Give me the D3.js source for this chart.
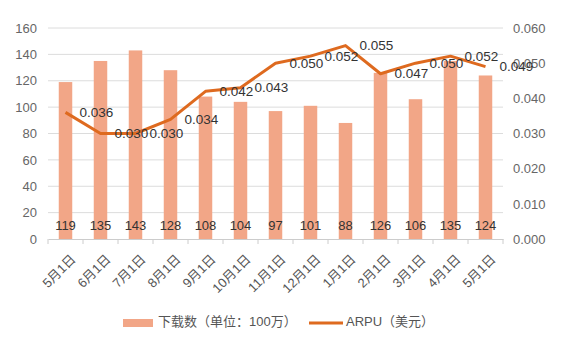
<!DOCTYPE html>
<html><head><meta charset="utf-8">
<script src="https://cdn.jsdelivr.net/npm/d3@7"></script>
<style>body{margin:0;background:#fff}svg{display:block}text{font-family:"Liberation Sans","Noto Sans CJK SC",Arial,sans-serif}</style>
</head><body><svg id="c" width="564" height="348"></svg>
<script>
const categories = ["5月1日","6月1日","7月1日","8月1日","9月1日","10月1日","11月1日","12月1日","1月1日","2月1日","3月1日","4月1日","5月1日"];
const downloads = [119,135,143,128,108,104,97,101,88,126,106,135,124];
const arpu = [0.036,0.030,0.030,0.034,0.042,0.043,0.050,0.052,0.055,0.047,0.050,0.052,0.049];
const leftTicks = [0,20,40,60,80,100,120,140,160];
const rightTicks = [0,0.01,0.02,0.03,0.04,0.05,0.06];
const legendLabels = ["下载数（单位：100万）","ARPU（美元）"];

const barColor = "#F2A687", lineColor = "#DE6A1F", gridColor = "#dcdcdc", axisText = "#666";
const svg = d3.select("#c");
const m = {l:48, r:61, t:28, b:109};
const W = 564, H = 348;
const x = d3.scaleBand().domain(d3.range(categories.length)).range([m.l, W-m.r]);
const yL = d3.scaleLinear().domain([0,160]).range([H-m.b, m.t]);
const yR = d3.scaleLinear().domain([0,0.06]).range([H-m.b, m.t]);

// grid
svg.append("g").selectAll("line").data(leftTicks.slice(1)).join("line")
  .attr("x1", m.l).attr("x2", W-m.r).attr("y1", d=>yL(d)).attr("y2", d=>yL(d))
  .attr("stroke", gridColor).attr("stroke-width", 1);

// left axis
const gl = svg.append("g").attr("transform", `translate(${m.l-11},0)`)
  .call(d3.axisLeft(yL).tickValues(leftTicks).tickSize(0).tickPadding(0));
gl.select(".domain").remove();
gl.selectAll("text").attr("fill", axisText).style("font-size","13px");

// right axis
const gr = svg.append("g").attr("transform", `translate(${W-m.r+10},0)`)
  .call(d3.axisRight(yR).tickValues(rightTicks).tickFormat(d3.format(".3f")).tickSize(0).tickPadding(0));
gr.select(".domain").remove();
gr.selectAll("text").attr("fill", axisText).style("font-size","13px");

// bars
const bw = 13.5;
svg.append("g").selectAll("rect").data(downloads).join("rect")
  .attr("x", (d,i)=>x(i)+x.bandwidth()/2-bw/2).attr("width", bw)
  .attr("y", d=>yL(d)).attr("height", d=>yL(0)-yL(d)).attr("fill", barColor);

// x axis
const gx = svg.append("g").attr("transform", `translate(0,${yL(0)})`)
  .call(d3.axisBottom(x).tickFormat(i=>categories[i]).tickSize(0).tickPadding(0));
gx.select(".domain").attr("stroke", "#ccc");
gx.selectAll("text").attr("fill", "#555").style("font-size","13px")
  .attr("text-anchor","end").attr("dy", null)
  .attr("transform", "translate(11,21) rotate(-45)");
// band boundary tick marks
svg.append("g").selectAll("line").data(d3.range(categories.length+1)).join("line")
  .attr("x1", i=>m.l+i*x.step()).attr("x2", i=>m.l+i*x.step())
  .attr("y1", yL(0)).attr("y2", yL(0)+5).attr("stroke", "#ccc");

// bar labels
svg.append("g").selectAll("text").data(downloads).join("text")
  .attr("x", (d,i)=>x(i)+x.bandwidth()/2).attr("y", yL(0)-12)
  .attr("text-anchor","middle").attr("dominant-baseline","middle")
  .attr("fill","#333").style("font-size","13px").text(d=>d);

// line
const line = d3.line().x((d,i)=>x(i)+x.bandwidth()/2).y(d=>yR(d));
svg.append("path").datum(arpu).attr("d", line).attr("fill","none")
  .attr("stroke", lineColor).attr("stroke-width", 3).attr("stroke-linejoin","round");

// line labels
svg.append("g").selectAll("text").data(arpu).join("text")
  .attr("x", (d,i)=>x(i)+x.bandwidth()/2+14).attr("y", d=>yR(d)+1)
  .attr("dominant-baseline","middle").attr("fill","#333").style("font-size","13.5px")
  .text(d=>d3.format(".3f")(d));

// legend
const lg = svg.append("g");
lg.append("rect").attr("x",123).attr("y",319).attr("width",30).attr("height",8).attr("fill",barColor);
lg.append("text").attr("x",158).attr("y",323).attr("dominant-baseline","middle")
  .attr("fill","#555").style("font-size","13px").text(legendLabels[0]);
lg.append("line").attr("x1",309).attr("x2",343).attr("y1",323).attr("y2",323)
  .attr("stroke",lineColor).attr("stroke-width",3);
lg.append("text").attr("x",346).attr("y",323).attr("dominant-baseline","middle")
  .attr("fill","#555").style("font-size","13px").text(legendLabels[1]);
</script></body></html>
